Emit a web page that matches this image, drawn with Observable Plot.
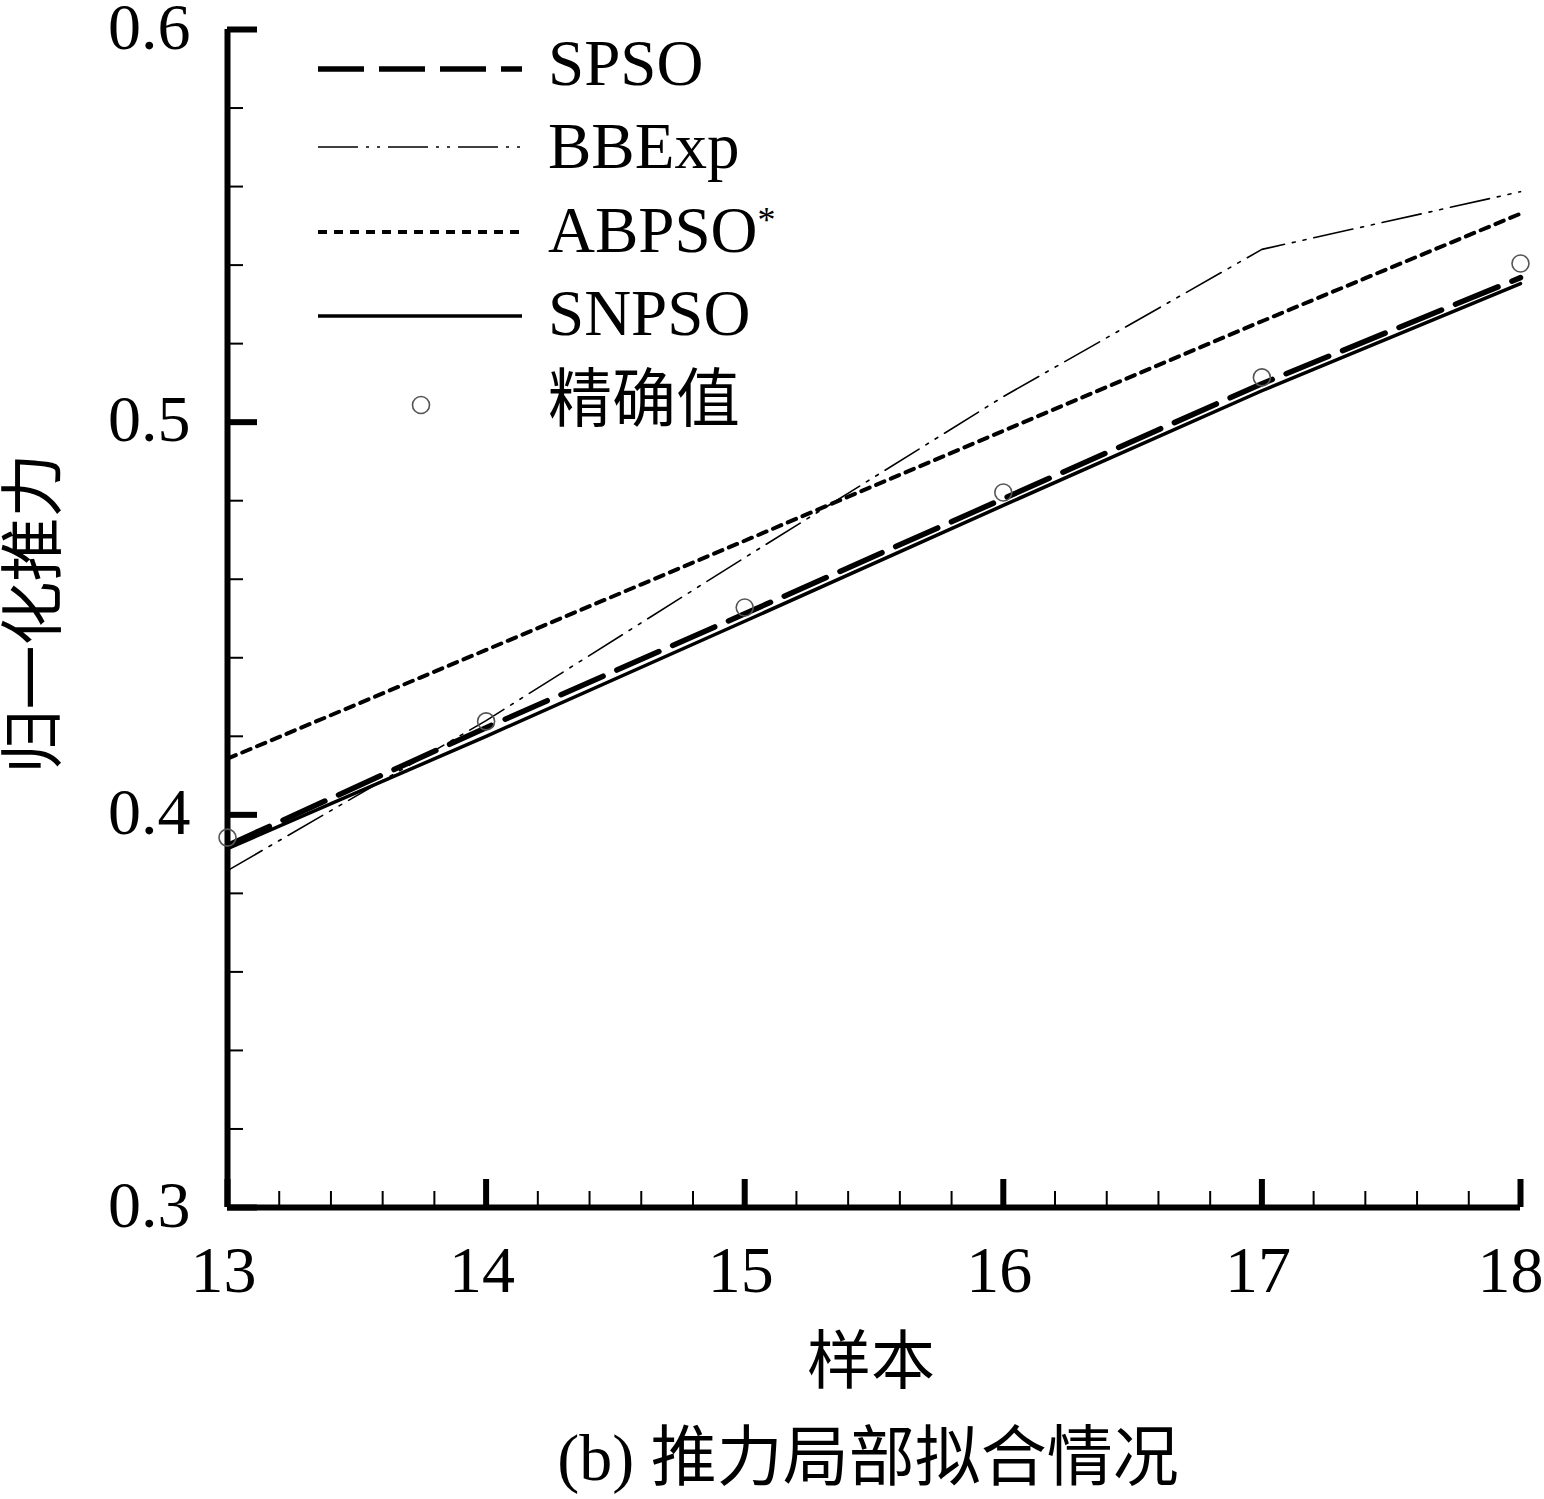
<!DOCTYPE html>
<html>
<head>
<meta charset="utf-8">
<script src="https://cdn.jsdelivr.net/npm/d3@7"></script>
<script src="https://cdn.jsdelivr.net/npm/@observablehq/plot@0.6"></script>
<style>
  html, body { margin: 0; padding: 0; background: #fff; overflow: hidden; }
  #chart svg { display: block; overflow: visible; }
</style>
</head>
<body>
<div id="chart"></div>
<script>
// ---- data ----
const samples = [13, 14, 15, 16, 17, 18];
const exactValues = [0.3942, 0.4238, 0.4528, 0.4821, 0.5114, 0.5404];
const spsoValues  = [0.3922, 0.4222, 0.4512, 0.4805, 0.5098, 0.5368];
const bbexpValues = [0.3858, 0.4240, 0.4655, 0.5065, 0.5440, 0.5587];
const abpsoValues = [0.4143, 0.4420, 0.4698, 0.4978, 0.5257, 0.5531];
const snpsoValues = [0.3914, 0.4200, 0.4493, 0.4788, 0.5080, 0.5353];

const xMajorTicks = [13, 14, 15, 16, 17, 18];
const yMajorTicks = [0.3, 0.4, 0.5, 0.6];
const xMinorTicks = d3.range(13, 18.0001, 0.2).map(v => +v.toFixed(1)).filter(v => !Number.isInteger(v));
const yMinorTicks = d3.range(0.3, 0.60001, 0.02).map(v => +v.toFixed(2)).filter(v => Math.abs(v * 10 - Math.round(v * 10)) > 1e-6);

const exactName = "精确值";
const xLabel = "样本";
const yLabel = "归一化推力";
const captionText = "(b) 推力局部拟合情况";

const table = (vals, name) => samples.map((s, i) => ({sample: s, value: vals[i], series: name}));
const spso = table(spsoValues, "SPSO");
const bbexp = table(bbexpValues, "BBExp");
const abpso = table(abpsoValues, "ABPSO");
const snpso = table(snpsoValues, "SNPSO");
const exact = table(exactValues, exactName);

const serif = '"Liberation Serif", "Times New Roman", serif';
const cjk = '"Noto Sans CJK SC", sans-serif';

const xLabelTicksInner = xMajorTicks.slice(0, -1);
const xLabelTickLast = xMajorTicks.slice(-1);

const chart = Plot.plot({
  width: 1544,
  height: 1499,
  marginLeft: 227,
  marginRight: 24,
  marginTop: 29,
  marginBottom: 292,
  x: {domain: [13, 18]},
  y: {domain: [0.3, 0.6]},
  style: {fontFamily: serif, fontSize: "66px", color: "#000", background: "#fff", overflow: "visible"},
  marks: [
    // minor ticks (inward)
    Plot.axisY(yMinorTicks, {tickSize: -16, strokeWidth: 2, tickFormat: () => "", label: null}),
    Plot.axisX(xMinorTicks, {tickSize: -16, strokeWidth: 2, tickFormat: () => "", label: null}),
    // major ticks (inward)
    Plot.axisY(yMajorTicks, {tickSize: -30, strokeWidth: 6, tickFormat: () => "", label: null}),
    Plot.axisX(xMajorTicks, {tickSize: -28, strokeWidth: 6, tickFormat: () => "", label: null}),
    // tick labels
    Plot.axisY(yMajorTicks, {tickSize: 0, tickPadding: 37, dy: -2, tickFormat: d => d.toFixed(1), fontSize: 66, label: null}),
    Plot.axisX(xLabelTicksInner, {tickSize: 0, tickPadding: 38, dx: -4, tickFormat: d => String(d), fontSize: 66, label: null}),
    Plot.axisX(xLabelTickLast, {tickSize: 0, tickPadding: 38, dx: -10, tickFormat: d => String(d), fontSize: 66, label: null}),
    // axis lines
    Plot.ruleX([13], {strokeWidth: 6}),
    Plot.ruleY([0.3], {strokeWidth: 6}),
    // series
    Plot.line(abpso, {x: "sample", y: "value", stroke: "#000", strokeWidth: 4, strokeDasharray: "9,7"}),
    Plot.line(bbexp, {x: "sample", y: "value", stroke: "#000", strokeWidth: 1.6, strokeDasharray: "40,8,3,8,3,8"}),
    Plot.line(snpso, {x: "sample", y: "value", stroke: "#000", strokeWidth: 3.5}),
    Plot.line(spso, {x: "sample", y: "value", stroke: "#000", strokeWidth: 5.5, strokeDasharray: "46,15"}),
    Plot.dot(exact, {x: "sample", y: "value", r: 8.5, stroke: "#555", strokeWidth: 1.6, fill: "none"}),
    // axis titles and caption
    Plot.text([yLabel], {frameAnchor: "left", textAnchor: "middle", lineAnchor: "middle", rotate: -90, dx: -193, dy: -5, fontFamily: cjk, fontSize: 64}),
    Plot.text([xLabel], {frameAnchor: "bottom", textAnchor: "middle", lineAnchor: "middle", dy: 155, dx: -3, fontFamily: cjk, fontSize: 64}),
    Plot.text([captionText], {frameAnchor: "bottom", textAnchor: "middle", lineAnchor: "middle", dy: 251, dx: -6, fontSize: 66, fontFamily: `"Liberation Serif", ${cjk}`})
  ]
});

// ---- legend ----
const svg = d3.select(chart);
const leg = svg.append("g").attr("class", "legend").attr("text-anchor", "start");
const legendItems = [
  {name: "SPSO", y: 69, base: 85, width: 5.5, dash: "46,15"},
  {name: "BBExp", y: 147, base: 168, width: 1.6, dash: "40,8,3,8,3,8"},
  {name: "ABPSO", y: 232, base: 252, width: 4, dash: "9,7", sup: "*"},
  {name: "SNPSO", y: 316, base: 335, width: 3.5, dash: null}
];
legendItems.forEach(it => {
  leg.append("line")
    .attr("x1", 318).attr("x2", 522).attr("y1", it.y).attr("y2", it.y)
    .attr("stroke", "#000").attr("stroke-width", it.width)
    .attr("stroke-dasharray", it.dash);
  const t = leg.append("text")
    .attr("x", 548).attr("y", it.base)
    .attr("font-family", serif).attr("font-size", 65)
    .text(it.name);
  if (it.sup) {
    t.append("tspan").attr("font-size", 36).attr("dy", -20).text(it.sup);
  }
});
leg.append("circle").attr("cx", 421).attr("cy", 405).attr("r", 8.5)
  .attr("fill", "none").attr("stroke", "#555").attr("stroke-width", 1.6);
leg.append("text").attr("x", 548).attr("y", 421)
  .attr("font-family", cjk).attr("font-size", 64).text(exactName);

document.getElementById("chart").appendChild(chart);
</script>
</body>
</html>
